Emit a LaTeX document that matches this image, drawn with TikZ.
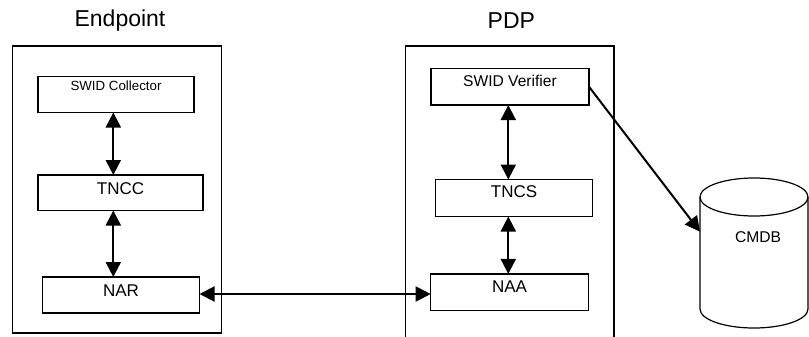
\documentclass[tikz,border=0pt]{standalone}
\usepackage{fontspec}
\setmainfont{Liberation Sans}
\usetikzlibrary{arrows.meta}
\begin{document}
\begin{tikzpicture}[x=1pt,y=-1pt,
  frame/.style={draw, line width=1.2pt},
  boxnode/.style={draw, line width=1.2pt, inner sep=0pt, outer sep=0pt},
  title/.style={inner sep=0pt, font=\fontsize{23}{26}\selectfont},
  lbl/.style={inner sep=0pt, font=\fontsize{17}{20}\selectfont},
  small/.style={inner sep=0pt, font=\fontsize{13.3}{15}\selectfont},
  mid/.style={inner sep=0pt, font=\fontsize{15.6}{18}\selectfont},
  dbl/.style={line width=2pt, {Triangle[length=15pt,width=15pt]}-{Triangle[length=15pt,width=15pt]}},
  sgl/.style={line width=2pt, -{Triangle[length=15pt,width=15pt]}}]
\useasboundingbox (0,0) rectangle (809,337);
\fill[white] (0,0) rectangle (809,337);

% titles
\node[title] (tEnd) at (120,21) {Endpoint};
\node[title] (tPdp) at (511.3,21) {PDP};

% Endpoint frame
\node[boxnode, minimum width=209pt, minimum height=287pt] (endf) at (117.2,189.5) {};
% PDP frame (open at bottom)
\draw[frame] (405.5,338) -- (405.5,46) -- (614,46) -- (614,338);

% Endpoint boxes
\node[boxnode, minimum width=156pt, minimum height=36pt] (col) at (116,94.5) {};
\node[small] (colT) at (116,86) {SWID Collector};
\node[boxnode, minimum width=165pt, minimum height=35.5pt] (tncc) at (120.5,192.75) {};
\node[lbl] (tnccT) at (120.5,188.5) {TNCC};
\node[boxnode, minimum width=157pt, minimum height=36pt] (nar) at (121,295) {};
\node[lbl] (narT) at (121,290.5) {NAR};

% PDP boxes
\node[boxnode, minimum width=158pt, minimum height=36.7pt] (ver) at (510,86.7) {};
\node[mid] (verT) at (510,80.5) {SWID Verifier};
\node[boxnode, minimum width=157pt, minimum height=37pt] (tncs) at (514,198) {};
\node[lbl] (tncsT) at (514,191.7) {TNCS};
\node[boxnode, minimum width=157.6pt, minimum height=36.7pt] (naa) at (509.5,292.3) {};
\node[lbl] (naaT) at (509.5,287) {NAA};

% CMDB cylinder
\draw[line width=1.2pt, fill=white] (700,197) -- (700,309) arc[start angle=180, end angle=360, x radius=54, y radius=-19] -- (808,197);
\draw[line width=1.2pt] (754,197) ellipse [x radius=54, y radius=19];
\node[mid] (cmdbT) at (758,237) {CMDB};
\coordinate (cmdb) at (700,231.7);

% connectors
\coordinate (xl) at (113.3,0);
\coordinate (xr) at (508.3,0);
\coordinate (yh) at (0,294);
\draw[dbl] (col.south -| xl) -- (tncc.north -| xl);
\draw[dbl] (tncc.south -| xl) -- (nar.north -| xl);
\draw[dbl] (ver.south -| xr) -- (tncs.north -| xr);
\draw[dbl] (tncs.south -| xr) -- (naa.north -| xr);
\draw[dbl] (nar.east |- yh) -- (naa.west |- yh);
\draw[sgl] (ver.east) -- (cmdb);
\end{tikzpicture}
\end{document}
